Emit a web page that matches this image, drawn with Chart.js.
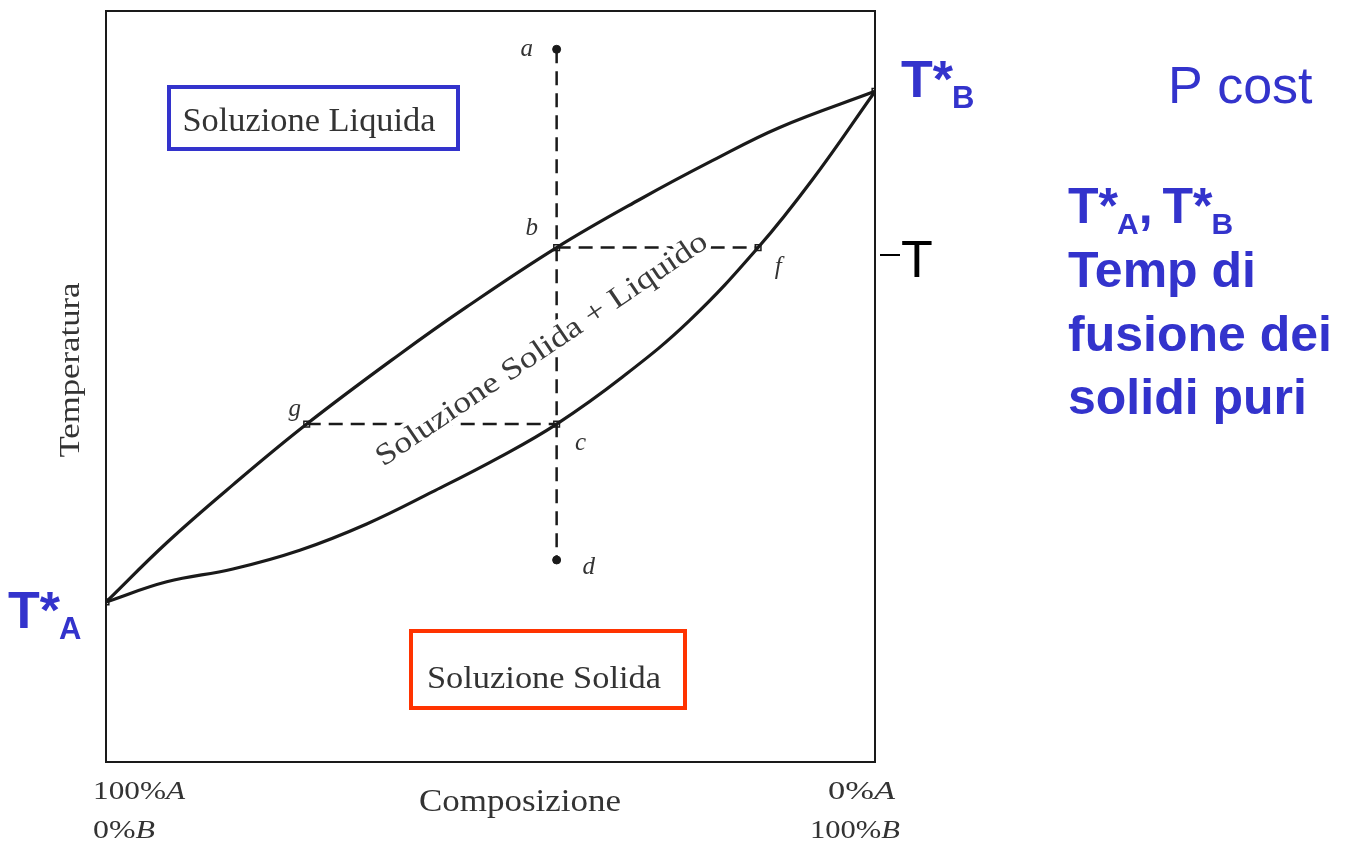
<!DOCTYPE html>
<html><head><meta charset="utf-8">
<script src="https://cdn.jsdelivr.net/npm/chart.js@4"></script>
<style>html,body{margin:0;padding:0;background:#fff;overflow:hidden}canvas{display:block}</style>
</head><body>
<canvas id="c" width="1364" height="844"></canvas>
<script>
// Composition (% B) and temperature (arbitrary units, 0-100 of the frame)
const liquidusX = [0, 7.9, 16.5, 26.1, 38.2, 46.9, 58.6, 69.4, 78.9, 87.6, 100];
const liquidusT = [21.3, 29.2, 36.9, 45.0, 54.3, 60.6, 68.5, 74.9, 80.1, 84.5, 89.3];
const solidusX = [0, 7.9, 16.5, 25.2, 33.9, 42.5, 51.2, 58.6, 67.2, 75.9, 84.8, 91.9, 100];
const solidusT = [21.3, 24.0, 25.7, 28.2, 31.7, 36.0, 40.6, 45.0, 51.3, 58.8, 68.5, 77.6, 89.3];
const pointNames = ['a', 'b', 'c', 'd', 'f', 'g'];
const pointX = [58.6, 58.6, 58.6, 58.6, 84.8, 26.1];
const pointT = [94.9, 68.5, 45.0, 26.9, 68.5, 45.0];
const pureNames = ['A', 'B'];
const pureX = [0, 100];
const pureT = [21.3, 89.3];

const P = i => ({x: pointX[i], y: pointT[i]});
const pts = (xs, ys) => xs.map((x, i) => ({x, y: ys[i]}));
const idx = n => pointNames.indexOf(n);

const SERIF = '"Liberation Serif","DejaVu Serif",serif';
const SANS = '"Liberation Sans",Arial,sans-serif';
const BLUE = '#3333cc';

function fitText(ctx, text, x, y, width, font, align) {
  ctx.save();
  ctx.font = font;
  const w = ctx.measureText(text).width;
  const s = width / w;
  let x0 = x;
  if (align === 'center') x0 = x - width / 2;
  else if (align === 'right') x0 = x - width;
  ctx.translate(x0, y);
  ctx.scale(s, 1);
  ctx.textAlign = 'left';
  ctx.fillText(text, 0, 0);
  ctx.restore();
}
function mixed(ctx, main, italic, x, y, width, size, align) {
  ctx.save();
  const f1 = size + 'px ' + SERIF, f2 = 'italic ' + size + 'px ' + SERIF;
  ctx.font = f1; const w1 = ctx.measureText(main).width;
  ctx.font = f2; const w2 = ctx.measureText(italic).width;
  const s = width / (w1 + w2);
  let x0 = align === 'right' ? x - width : x;
  ctx.translate(x0, y); ctx.scale(s, 1);
  ctx.textAlign = 'left';
  ctx.font = f1; ctx.fillText(main, 0, 0);
  ctx.font = f2; ctx.fillText(italic, w1, 0);
  ctx.restore();
}
function tSub(ctx, sub, x, y, size, subSize) {
  ctx.font = 'bold ' + size + 'px ' + SANS;
  ctx.textAlign = 'left';
  ctx.fillText('T*', x, y);
  const w = ctx.measureText('T*').width;
  ctx.font = 'bold ' + subSize + 'px ' + SANS;
  ctx.fillText(sub, x + w - 1, y + 11);
  return x + w - 1 + ctx.measureText(sub).width;
}

const decor = {
  id: 'decor',
  afterDatasetsDraw(chart) {
    const ctx = chart.ctx, a = chart.chartArea;
    const xs = chart.scales.x, ys = chart.scales.y;
    ctx.save();
    // rotated region label with white halo (interrupts dashed lines)
    ctx.save();
    ctx.translate(542, 350);
    ctx.rotate(-Math.atan2(220, 325));
    ctx.font = '30px ' + SERIF;
    const txt = 'Soluzione Solida + Liquido';
    const w = ctx.measureText(txt).width;
    ctx.scale(394 / w, 1);
    ctx.textAlign = 'center';
    ctx.textBaseline = 'middle';
    ctx.lineJoin = 'round';
    ctx.strokeStyle = '#fff';
    ctx.lineWidth = 9;
    ctx.strokeText(txt, 0, 0);
    ctx.fillStyle = '#3a3a3a';
    ctx.fillText(txt, 0, 0);
    ctx.restore();

    // frame
    ctx.strokeStyle = '#1a1a1a';
    ctx.lineWidth = 2;
    ctx.strokeRect(a.left, a.top, a.right - a.left, a.bottom - a.top);

    // point letters
    ctx.fillStyle = '#333';
    ctx.textBaseline = 'middle';
    const off = {a: [-30, 0], b: [-25, -19], c: [24, 19], d: [32, 7], f: [20, 20], g: [-12, -15]};
    pointNames.forEach((n, i) => {
      const px = xs.getPixelForValue(pointX[i]) + off[n][0];
      const py = ys.getPixelForValue(pointT[i]) + off[n][1];
      ctx.font = 'italic 25px ' + SERIF;
      ctx.textAlign = 'center';
      ctx.fillText(n, px, py);
    });
    ctx.textBaseline = 'alphabetic';

    // boxes
    ctx.lineWidth = 4;
    ctx.strokeStyle = BLUE;
    ctx.strokeRect(169, 87, 289, 62);
    ctx.strokeStyle = '#ff3300';
    ctx.strokeRect(411, 631, 274, 77);
    ctx.fillStyle = '#333';
    fitText(ctx, 'Soluzione Liquida', 309, 131, 253, '33px ' + SERIF, 'center');
    fitText(ctx, 'Soluzione Solida', 544, 688, 234, '31px ' + SERIF, 'center');

    // axis texts
    ctx.save();
    ctx.translate(79, 370);
    ctx.rotate(-Math.PI / 2);
    fitText(ctx, 'Temperatura', 0, 0, 175, '29px ' + SERIF, 'center');
    ctx.restore();
    fitText(ctx, 'Composizione', 520, 811, 202, '31px ' + SERIF, 'center');
    mixed(ctx, '100%', 'A', 93, 799, 92, 26, 'left');
    mixed(ctx, '0%', 'B', 93, 838, 62, 26, 'left');
    mixed(ctx, '0%', 'A', 895, 799, 67, 26, 'right');
    mixed(ctx, '100%', 'B', 900, 838, 90, 26, 'right');

    // blue annotations
    ctx.fillStyle = BLUE;
    tSub(ctx, pureNames[1], 901, 97, 52, 31);
    tSub(ctx, pureNames[0], 8, 628, 52, 31);
    ctx.font = '52px ' + SANS;
    ctx.fillText('P cost', 1168, 103);
    let x = tSub(ctx, 'A', 1068, 223, 50, 30);
    ctx.font = 'bold 50px ' + SANS;
    ctx.fillText(',', x, 223);
    x += ctx.measureText(', ').width - 4;
    tSub(ctx, 'B', x, 223, 50, 30);
    ctx.font = 'bold 50px ' + SANS;
    ctx.fillText('Temp di', 1068, 287);
    ctx.fillText('fusione dei', 1068, 351);
    ctx.fillText('solidi puri', 1068, 414);

    // T marker on right
    ctx.fillStyle = '#000';
    ctx.strokeStyle = '#000';
    ctx.lineWidth = 2;
    ctx.beginPath(); ctx.moveTo(880, 255); ctx.lineTo(900, 255); ctx.stroke();
    ctx.font = '52px ' + SANS;
    ctx.fillText('T', 901, 277);
    ctx.restore();
  }
};

const dash = {borderColor: '#1a1a1a', borderWidth: 2.5, borderDash: [14, 8], pointRadius: 0, showLine: true, fill: false};
const curve = {showLine: true, borderColor: '#1a1a1a', borderWidth: 3.2, pointRadius: 0, tension: 0.4, fill: false};
new Chart(document.getElementById('c'), {
  type: 'scatter',
  data: {
    datasets: [
      Object.assign({label: 'a-d', data: [P(idx('a')), P(idx('d'))]}, dash),
      Object.assign({label: 'b-f', data: [P(idx('b')), P(idx('f'))]}, dash),
      Object.assign({label: 'g-c', data: [P(idx('g')), P(idx('c'))]}, dash),
      Object.assign({label: 'Liquidus', data: pts(liquidusX, liquidusT)}, curve),
      Object.assign({label: 'Solidus', data: pts(solidusX, solidusT)}, curve),
      {label: 'ends', data: [P(idx('a')), P(idx('d'))], pointRadius: 4, pointBackgroundColor: '#1a1a1a', pointBorderColor: '#1a1a1a', showLine: false},
      {label: 'nodes', data: ['b', 'c', 'f', 'g'].map(n => P(idx(n))).concat(pts(pureX, pureT)), pointStyle: 'rect', pointRadius: 4,
       pointBackgroundColor: '#fff', pointBorderColor: '#1a1a1a', pointBorderWidth: 1.5, showLine: false}
    ]
  },
  options: {
    responsive: false,
    animation: false,
    devicePixelRatio: 1,
    layout: {padding: {left: 106, right: 1364 - 875, top: 11, bottom: 844 - 762}},
    scales: {
      x: {type: 'linear', min: 0, max: 100, display: false},
      y: {type: 'linear', min: 0, max: 100, display: false}
    },
    plugins: {legend: {display: false}, tooltip: {enabled: false}}
  },
  plugins: [decor]
});
</script>
</body></html>
